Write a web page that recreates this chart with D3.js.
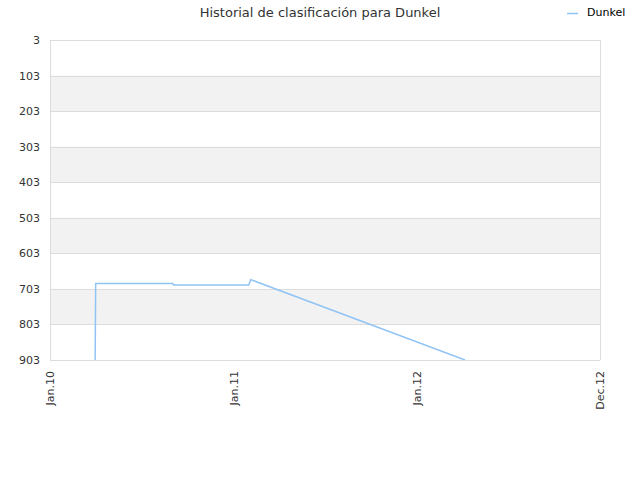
<!DOCTYPE html>
<html>
<head>
<meta charset="utf-8">
<script src="https://cdn.jsdelivr.net/npm/d3@7"></script>
<style>
  body { margin: 0; background: #fff; }
  text { font-family: "DejaVu Sans", sans-serif; }
</style>
</head>
<body>
<div id="chart"></div>
<script>
// Datos
const fechas = ["2010-04-01", "2010-04-02", "2010-09-03", "2010-09-04", "2011-02-01", "2011-02-05", "2012-04-07"];
const posiciones = [903, 688, 688, 692, 692, 677, 903];
const ticksY = [3, 103, 203, 303, 403, 503, 603, 703, 803, 903];
const ticksX = ["2010-01-01", "2011-01-01", "2012-01-01", "2013-01-01"];
const etiquetasX = ["Jan.10", "Jan.11", "Jan.12", "Dec.12"];

const parse = d3.utcParse("%Y-%m-%d");
const data = fechas.map((f, i) => ({ fecha: parse(f), valor: posiciones[i] }));

const margin = { top: 40, right: 40, bottom: 120, left: 50 };
const width = 640 - margin.left - margin.right;
const height = 480 - margin.top - margin.bottom;

const xScale = d3.scaleUtc()
  .domain([parse(ticksX[0]), parse(ticksX[ticksX.length - 1])])
  .range([0, width]);

const yScale = d3.scaleLinear()
  .domain([3, 903])
  .range([0, height]);

const svg = d3.select("#chart")
  .append("svg")
  .attr("width", 640)
  .attr("height", 480);

const g = svg.append("g")
  .attr("transform", `translate(${margin.left},${margin.top})`);

// Bandas alternas
g.selectAll(".band")
  .data(d3.range(ticksY.length - 1).filter(i => i % 2 === 1))
  .enter().append("rect")
  .attr("x", 0)
  .attr("width", width)
  .attr("y", i => yScale(ticksY[i]))
  .attr("height", i => yScale(ticksY[i + 1]) - yScale(ticksY[i]))
  .attr("fill", "#f2f2f2");

// Líneas de rejilla
g.selectAll(".grid")
  .data(ticksY)
  .enter().append("line")
  .attr("x1", 0)
  .attr("x2", width)
  .attr("y1", d => Math.round(yScale(d)) + 0.5)
  .attr("y2", d => Math.round(yScale(d)) + 0.5)
  .attr("stroke", "#dddddd");

// Bordes verticales
[0, width].forEach(x => {
  g.append("line")
    .attr("x1", x + 0.5).attr("x2", x + 0.5)
    .attr("y1", 0).attr("y2", height)
    .attr("stroke", "#dddddd");
});

// Eje Y
const yAxis = g.append("g")
  .call(d3.axisLeft(yScale).tickValues(ticksY).tickSize(0).tickPadding(10));
yAxis.select(".domain").remove();
yAxis.selectAll("text")
  .attr("fill", "#333")
  .style("font-size", "11px");

// Eje X
const xAxis = g.append("g")
  .attr("transform", `translate(0,${height})`)
  .call(d3.axisBottom(xScale)
    .tickValues(ticksX.map(parse))
    .tickFormat((d, i) => etiquetasX[i])
    .tickSize(0));
xAxis.select(".domain").remove();
xAxis.selectAll("text")
  .attr("fill", "#333")
  .style("font-size", "11px")
  .style("text-anchor", "end")
  .attr("x", -11)
  .attr("y", 0)
  .attr("dy", "0.35em")
  .attr("transform", "rotate(-90)");

// Línea
const clip = g.append("clipPath").attr("id", "clip")
  .append("rect").attr("width", width).attr("height", height);

const line = d3.line()
  .x(d => xScale(d.fecha))
  .y(d => yScale(d.valor));

g.append("path")
  .datum(data)
  .attr("clip-path", "url(#clip)")
  .attr("fill", "none")
  .attr("stroke", "#90c4f5")
  .attr("stroke-width", 1.5)
  .attr("d", line);

// Título
svg.append("text")
  .attr("x", 320)
  .attr("y", 17)
  .attr("text-anchor", "middle")
  .attr("fill", "#333")
  .style("font-size", "13px")
  .text("Historial de clasificación para Dunkel");

// Leyenda
svg.append("line")
  .attr("x1", 567).attr("x2", 578)
  .attr("y1", 13.5).attr("y2", 13.5)
  .attr("stroke", "#90c4f5")
  .attr("stroke-width", 1.5);
svg.append("text")
  .attr("x", 587)
  .attr("y", 16)
  .attr("fill", "#000")
  .style("font-size", "11px")
  .text("Dunkel");
</script>
</body>
</html>
